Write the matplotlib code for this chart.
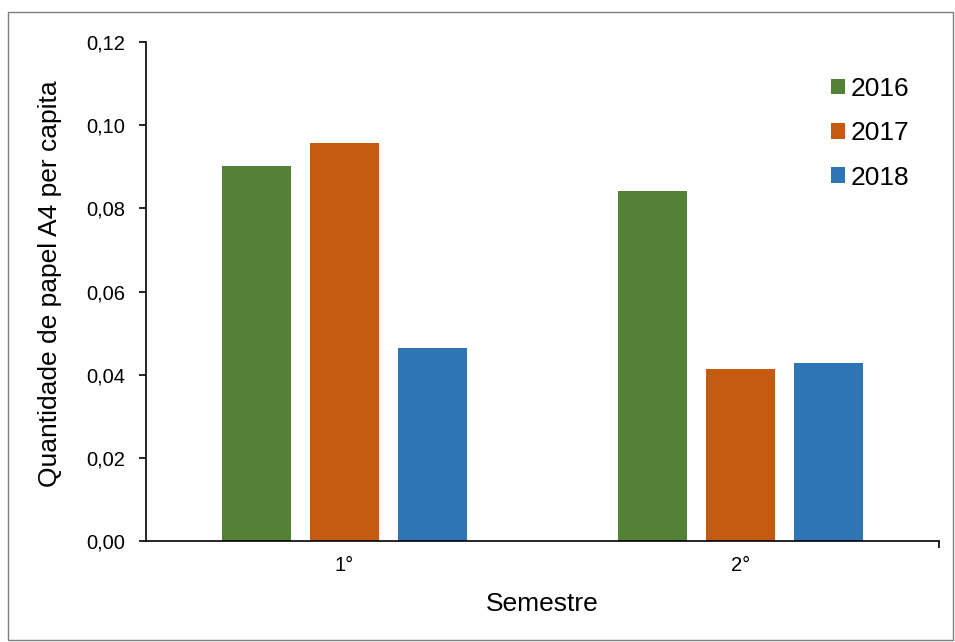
import numpy as np
import matplotlib
matplotlib.use("Agg")
from matplotlib import pyplot as plt
from matplotlib.patches import Rectangle
from matplotlib.ticker import FuncFormatter

plt.rcParams['font.family'] = ['Liberation Sans', 'DejaVu Sans']

semestres = ['1°', '2°']
anos = ['2016', '2017', '2018']
valores_2016 = [0.0902, 0.0842]
valores_2017 = [0.0957, 0.0414]
valores_2018 = [0.0465, 0.0427]
cores = ['#538135', '#C55A11', '#2E75B6']

fig = plt.figure(figsize=(9.55, 6.42), dpi=100)
ax = fig.add_axes([146/955, 1 - 541/642, (939-146)/955, (541-42)/642])

# borda cinza em volta da figura
fig.patches.append(Rectangle((8/955, 2/642), 945/955, 628/642, transform=fig.transFigure,
                             fill=False, edgecolor='#7f7f7f', linewidth=1))

x = np.arange(len(semestres))
w = 0.174
step = 0.222
for i, (vals, ano) in enumerate(zip([valores_2016, valores_2017, valores_2018], anos)):
    ax.bar(x + (i - 1) * step, vals, width=w, color=cores[i], label=ano)

ax.set_xlim(-0.5, 1.5)
ax.set_ylim(0, 0.12)
ax.set_yticks(np.arange(0, 0.121, 0.02))
ax.yaxis.set_major_formatter(FuncFormatter(lambda v, p: f"{v:.2f}".replace('.', ',')))
ax.set_xticks(x)
ax.set_xticklabels(semestres)
ax.set_xticks([1.5], minor=True)
ax.tick_params(axis='x', which='major', length=0, labelsize=14.5, pad=11)
ax.tick_params(axis='x', which='minor', length=5, width=1.2)
ax.tick_params(axis='y', length=5, width=1.2, labelsize=14.5, pad=10)

for s in ['top', 'right']:
    ax.spines[s].set_visible(False)
ax.spines['left'].set_linewidth(1.2)
ax.spines['bottom'].set_linewidth(1.2)

ax.set_xlabel('Semestre', fontsize=19, labelpad=12)
ax.set_ylabel('Quantidade de papel A4 per capita', fontsize=19)
ax.yaxis.set_label_coords(-0.106, 0.515)

ax.legend(loc='upper left', bbox_to_anchor=(0.8638, 0.93), frameon=False, fontsize=19,
          borderpad=0, borderaxespad=0,
          handlelength=0.53, handleheight=0.53, handletextpad=0.2, labelspacing=0.77)

fig.savefig('out.png', dpi=100)
